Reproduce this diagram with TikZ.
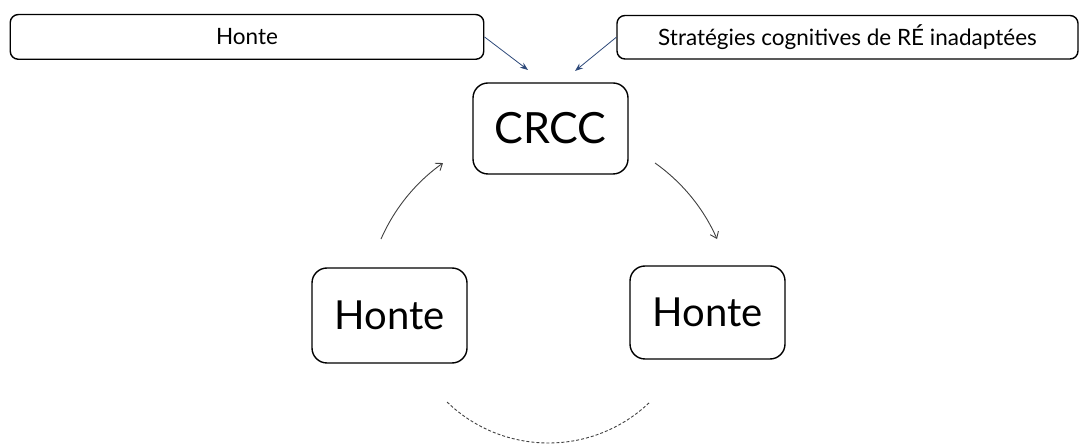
\documentclass[tikz,border=0pt]{standalone}
\usepackage{fontspec}
\setmainfont{Lato}
\usetikzlibrary{arrows.meta}
\definecolor{navyarrow}{HTML}{2E4A7A}
\definecolor{arcgray}{HTML}{404040}
\begin{document}
\begin{tikzpicture}[x=1pt,y=1pt,
  topbox/.style={draw=black,line width=1.4pt,rounded corners=8pt,inner sep=0pt,font=\fontsize{22.5}{26}\selectfont},
  bigbox/.style={draw=black,line width=1.4pt,rounded corners=15pt,inner sep=0pt,minimum width=155pt},
  navyarr/.style={draw=navyarrow,line width=0.8pt,-{Stealth[length=8pt,width=6pt]}},
  cyclearr/.style={draw=arcgray,line width=0.9pt,-{Straight Barb[length=6pt,width=9pt]}},
  dasharc/.style={draw=arcgray,line width=0.9pt,dash pattern=on 3pt off 2pt}]
\useasboundingbox (0,0) rectangle (1081,444);
\node[topbox,minimum width=473.5pt,minimum height=44.7pt] (tl) at (247,407.1) {Honte};
\node[topbox,minimum width=461pt,minimum height=43.5pt] (tr) at (847.5,406.75) {Stratégies cognitives de RÉ inadaptées};
\node[bigbox,minimum height=91pt,font=\fontsize{43}{48}\selectfont] (crcc) at (550.5,315.5) {CRCC};
\node[bigbox,minimum height=95pt,font=\fontsize{40}{46}\selectfont] (hl) at (389.5,128.5) {Honte};
\node[bigbox,minimum height=93pt,font=\fontsize{40}{46}\selectfont] (hr) at (707.5,131.5) {Honte};
\coordinate (tipl) at (528,374);
\coordinate (tipr) at (575,373);
\draw[navyarr] (tl.east) -- (tipl);
\draw[navyarr] (tr.west) -- (tipr);
\coordinate (c1) at (549,131.2);
\coordinate (c2) at (548.5,147);
\draw[cyclearr] ([shift={(156.3:183.5)}]c1) arc[start angle=156.3,end angle=125.3,radius=183.5];
\draw[cyclearr] ([shift={(54.7:183.5)}]c1) arc[start angle=54.7,end angle=23.7,radius=183.5];
\draw[dasharc] ([shift={(226:146)}]c2) arc[start angle=226,end angle=314,radius=146];
\end{tikzpicture}
\end{document}
